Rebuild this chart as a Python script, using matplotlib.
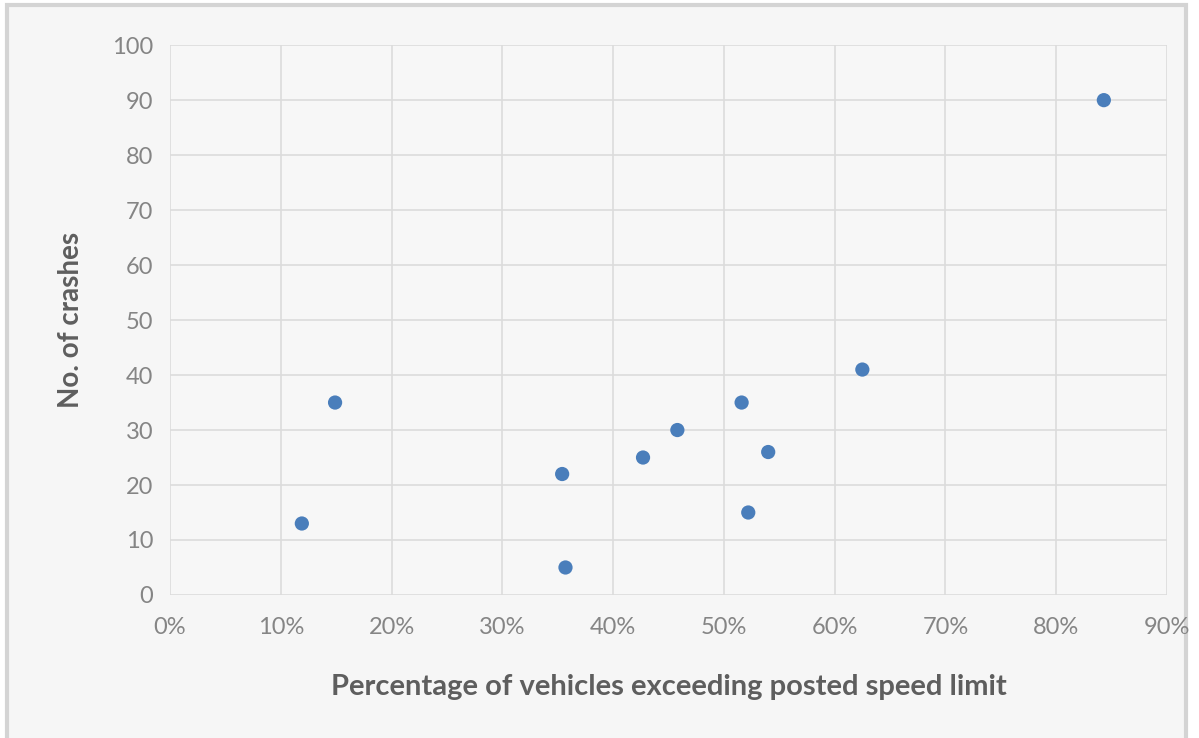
import matplotlib
matplotlib.use("Agg")
import matplotlib.pyplot as plt
from matplotlib.ticker import FuncFormatter, MultipleLocator
from matplotlib.patches import Rectangle

pct_exceeding = [11.9, 14.9, 35.4, 35.7, 42.7, 45.8, 51.6, 52.2, 54.0, 62.5, 84.3]
crashes = [13, 35, 22, 5, 25, 30, 35, 15, 26, 41, 90]

x_label = "Percentage of vehicles exceeding posted speed limit"
y_label = "No. of crashes"

plt.rcParams['font.family'] = ['Lato', 'DejaVu Sans']

fig = plt.figure(figsize=(11.99, 7.38), dpi=100)
fig.patch.set_facecolor('#ffffff')
# outer chart area with border
fig.add_artist(Rectangle((0.006, -0.05), 0.983, 1.043, transform=fig.transFigure,
                         facecolor='#f6f6f6', edgecolor='#d4d4d4', linewidth=3, zorder=0))

ax = fig.add_axes([0.1418, 0.1938, 0.8315, 0.745])
ax.set_facecolor('#f7f7f7')
ax.scatter([p / 100 for p in pct_exceeding], crashes, s=105, color='#4a7ebb',
           edgecolors='none', zorder=3)

ax.set_xlim(0, 0.9)
ax.set_ylim(0, 100)
ax.xaxis.set_major_locator(MultipleLocator(0.1))
ax.yaxis.set_major_locator(MultipleLocator(10))
ax.xaxis.set_major_formatter(FuncFormatter(lambda v, p: f"{round(v*100)}%"))
ax.grid(True, color='#dcdcdc', linewidth=1.2, zorder=0)
for s in ax.spines.values():
    s.set_visible(False)
ax.tick_params(length=0, labelsize=17, colors='#858585', pad=12)
ax.tick_params(axis='x', pad=16)
ax.set_xlabel(x_label, fontsize=21, fontweight='bold', color='#5e5e5e', labelpad=26)
ax.set_ylabel(y_label, fontsize=20, fontweight='bold', color='#5e5e5e', labelpad=20)

fig.savefig("out.png", dpi=100, facecolor=fig.get_facecolor())
